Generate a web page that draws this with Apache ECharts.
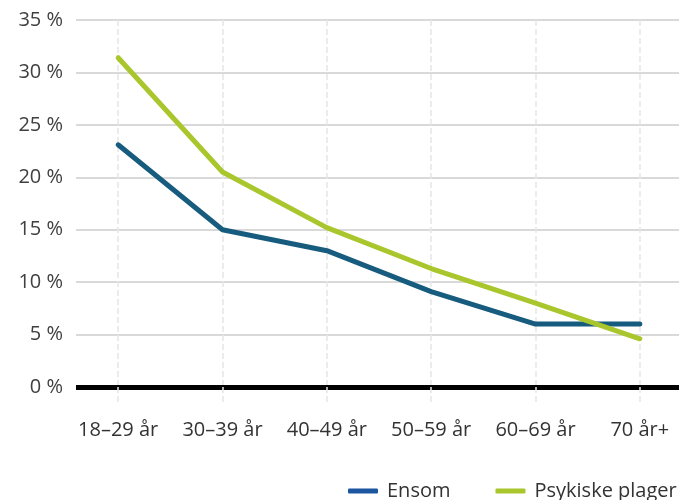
<!DOCTYPE html>
<html>
<head>
<meta charset="utf-8">
<script src="https://cdn.jsdelivr.net/npm/echarts@6/dist/echarts.min.js"></script>
<style>
html,body{margin:0;padding:0;background:#fff;overflow:hidden;width:679px;height:500px;}
#chart{width:700px;height:500px;}
</style>
</head>
<body>
<div id="chart"></div>
<script>
var categories = ['18–29 år', '30–39 år', '40–49 år', '50–59 år', '60–69 år', '70 år+'];
var ensom = [23.1, 15.0, 13.0, 9.1, 6.0, 6.0];
var psykiske = [31.4, 20.5, 15.2, 11.3, 8.0, 4.6];
var seriesNames = ['Ensom', 'Psykiske plager'];
var yTicks = [0, 5, 10, 15, 20, 25, 30, 35];

var FONT = '"Open Sans", sans-serif';
var chart = echarts.init(document.getElementById('chart'), null, {renderer: 'canvas'});
chart.setOption({
  animation: false,
  backgroundColor: '#ffffff',
  grid: {left: 66, width: 626, top: 20, height: 367, containLabel: false},
  graphic: [{
    type: 'rect', left: 63, top: 0, z: 100, silent: true,
    shape: {width: 13, height: 420},
    style: {fill: '#ffffff'}
  }],
  xAxis: {
    type: 'category',
    data: categories,
    boundaryGap: true,
    axisLine: {show: true, lineStyle: {color: '#000000', width: 5}},
    axisTick: {show: true, interval: 0, alignWithLabel: true, length: 15, lineStyle: {color: '#e6e6e6', width: 1.5, type: 'dashed'}},
    axisLabel: {interval: 0, color: '#333333', fontSize: 20, fontFamily: FONT, margin: 33},
    splitLine: {show: true, interval: 0, alignWithLabel: true, lineStyle: {color: '#e6e6e6', width: 1.5, type: 'dashed'}}
  },
  yAxis: {
    type: 'value',
    min: yTicks[0],
    max: yTicks[yTicks.length - 1],
    interval: 5,
    axisLine: {show: false},
    axisTick: {show: false},
    axisLabel: {color: '#404040', fontSize: 20, fontFamily: FONT, margin: 3,
      formatter: function (v) { return v + ' %'; }},
    splitLine: {show: true, lineStyle: {color: '#d9d9d9', width: 2}}
  },
  legend: {
    left: 348,
    top: 481,
    padding: 0,
    itemWidth: 30,
    itemHeight: 5,
    itemGap: 45,
    icon: 'roundRect',
    textStyle: {color: '#333333', fontSize: 20, fontFamily: FONT, padding: [0, 0, 0, 4]},
    data: [
      {name: seriesNames[0], itemStyle: {color: '#1c56a0'}},
      {name: seriesNames[1], itemStyle: {color: '#a9c62c'}}
    ]
  },
  series: [
    {
      name: seriesNames[0], type: 'line', data: ensom, showSymbol: false, symbol: 'none',
      color: '#175c7e',
      lineStyle: {color: '#175c7e', width: 5, cap: 'round', join: 'round'}
    },
    {
      name: seriesNames[1], type: 'line', data: psykiske, showSymbol: false, symbol: 'none',
      color: '#a9c62c',
      lineStyle: {color: '#a9c62c', width: 5, cap: 'round', join: 'round'}
    }
  ]
});
</script>
</body>
</html>
